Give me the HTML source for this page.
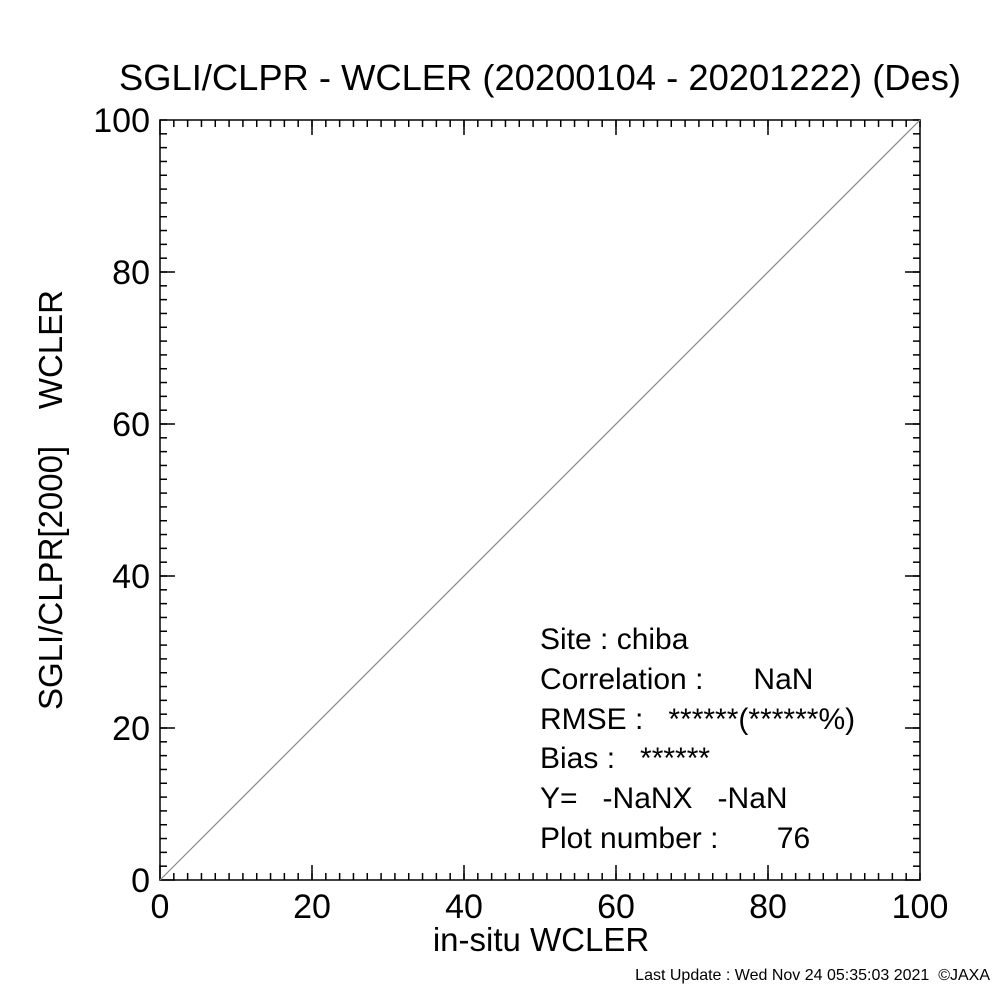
<!DOCTYPE html>
<html><head><meta charset="utf-8"><style>
body{margin:0;background:#fff;}
svg text{font-family:"Liberation Sans",Arial,sans-serif;fill:#000;white-space:pre;}
</style></head><body>
<svg id="chart" width="1000" height="1000" viewBox="0 0 1000 1000">
<text x="540" y="90" font-size="36" text-anchor="middle" textLength="842" lengthAdjust="spacingAndGlyphs">SGLI/CLPR - WCLER (20200104 - 20201222) (Des)</text>
<rect x="160" y="120" width="760" height="760" fill="none" stroke="#000" stroke-width="1.5"/>
<g id="ticks"></g>
<g id="labels"></g>
<line id="diag" stroke="#888" stroke-width="1.2"/>
<text x="541" y="951" font-size="33" text-anchor="middle">in-situ WCLER</text>
<text transform="translate(62,500) rotate(-90)" font-size="33" text-anchor="middle">SGLI/CLPR[2000]    WCLER</text>
<g font-size="30">
<text x="540" y="649">Site : chiba</text>
<text x="540" y="689">Correlation :      NaN</text>
<text x="540" y="729">RMSE :   ******(******%)</text>
<text x="540" y="768">Bias :   ******</text>
<text x="540" y="808">Y=   -NaNX   -NaN</text>
<text x="540" y="848">Plot number :       76</text>
</g>
<text x="990" y="980" font-size="16" text-anchor="end">Last Update : Wed Nov 24 05:35:03 2021  ©JAXA</text>
</svg>
<script>
const xTicks=[0,20,40,60,80,100];
const yTicks=[0,20,40,60,80,100];
const lineX=[0,100];
const lineY=[0,100];
const L=160,R=920,T=120,B=880;
const sx=v=>L+(v-0)/(100-0)*(R-L);
const sy=v=>B-(v-0)/(100-0)*(B-T);
const NS="http://www.w3.org/2000/svg";
const tg=document.getElementById('ticks'),lg=document.getElementById('labels');
function ln(x1,y1,x2,y2){const l=document.createElementNS(NS,'line');
l.setAttribute('x1',x1);l.setAttribute('y1',y1);l.setAttribute('x2',x2);l.setAttribute('y2',y2);
l.setAttribute('stroke','#000');l.setAttribute('stroke-width','1.5');


tg.appendChild(l);}
for(let i=0;i<xTicks.length-1;i++){
 const a=xTicks[i],b=xTicks[i+1];
 for(let k=0;k<=11;k++){const v=a+(b-a)*k/11;const len=k==0?15:7;
  ln(sx(v),B,sx(v),B-len);ln(sx(v),T,sx(v),T+len);}
}
for(let i=0;i<yTicks.length-1;i++){
 const a=yTicks[i],b=yTicks[i+1];
 for(let k=0;k<=11;k++){const v=a+(b-a)*k/11;const len=k==0?15:7;
  ln(L,sy(v),L+len,sy(v));ln(R,sy(v),R-len,sy(v));}
}
xTicks.forEach(v=>{const t=document.createElementNS(NS,'text');
t.setAttribute('x',sx(v));t.setAttribute('y',918);t.setAttribute('font-size','34');t.setAttribute('text-anchor','middle');


t.textContent=v;lg.appendChild(t);});
yTicks.forEach(v=>{const t=document.createElementNS(NS,'text');
t.setAttribute('x',150);t.setAttribute('y',sy(v)+12);t.setAttribute('font-size','34');t.setAttribute('text-anchor','end');


t.textContent=v;lg.appendChild(t);});
const d=document.getElementById('diag');
d.setAttribute('x1',sx(lineX[0]));d.setAttribute('y1',sy(lineY[0]));
d.setAttribute('x2',sx(lineX[1]));d.setAttribute('y2',sy(lineY[1]));
</script>
</body></html>
